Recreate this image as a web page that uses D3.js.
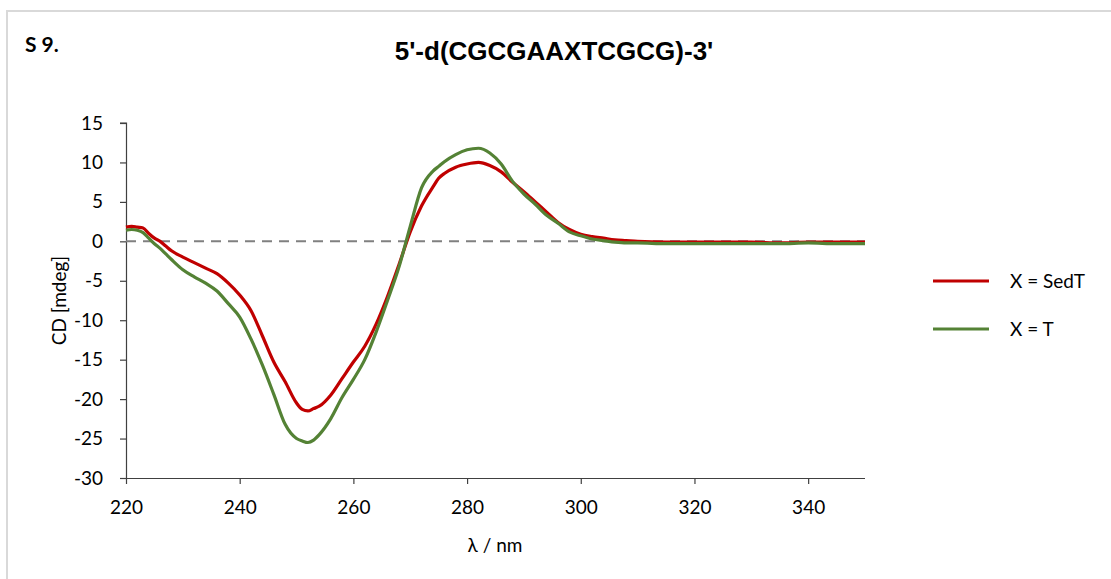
<!DOCTYPE html>
<html>
<head>
<meta charset="utf-8">
<script src="https://cdn.jsdelivr.net/npm/d3@7"></script>
<style>
  body { margin: 0; background: #fff; }
  svg { display: block; }
</style>
</head>
<body>
<svg id="chart" width="1111" height="579"></svg>
<script>

// wavelengths (nm)
var wavelength = [220, 221, 222, 223, 224, 225, 226, 227, 228, 230, 232, 234, 236, 238,
	240, 242, 244, 246, 248, 250, 251, 252, 253, 254, 256, 258, 260, 262, 264, 266, 268,
	270, 272, 274, 275, 276, 278, 280, 282, 284, 286, 288, 290, 292, 294, 296, 298, 300,
	302, 304, 306, 308, 310, 315, 320, 325, 330, 335, 340, 345, 350];

// X = SedT (red)
var cdSedT = [1.8, 1.9, 1.8, 1.7, 1.0, 0.4, 0.0, -0.6, -1.2, -2.0, -2.7, -3.4, -4.1, -5.3,
	-6.8, -8.8, -12.0, -15.3, -17.8, -20.5, -21.3, -21.5, -21.2, -20.9, -19.5, -17.4, -15.3, -13.3, -10.5, -7.0, -3.0,
	1.2, 4.5, 6.9, 8.0, 8.6, 9.4, 9.8, 10.0, 9.6, 8.8, 7.5, 6.3, 5.0, 3.7, 2.4, 1.5, 0.9,
	0.6, 0.4, 0.2, 0.1, 0.0, -0.1, -0.1, -0.1, -0.1, -0.2, -0.1, -0.1, -0.1];

// X = T (green)
var cdT = [1.4, 1.5, 1.4, 1.1, 0.4, -0.3, -0.9, -1.6, -2.3, -3.6, -4.5, -5.3, -6.3, -7.9,
	-9.6, -12.4, -15.7, -19.4, -23.2, -25.0, -25.3, -25.5, -25.2, -24.5, -22.5, -19.8, -17.5, -15.0, -11.5, -7.5, -3.3,
	1.9, 6.8, 8.9, 9.5, 10.1, 11.0, 11.6, 11.8, 11.2, 9.8, 7.6, 6.0, 4.7, 3.3, 2.3, 1.2, 0.7,
	0.3, 0.1, -0.1, -0.2, -0.2, -0.3, -0.3, -0.3, -0.3, -0.3, -0.2, -0.3, -0.3];

var seriesNames = ["X = SedT", "X = T"];
var seriesColors = ["#c00000", "#548235"];
var xTicks = [220, 240, 260, 280, 300, 320, 340];
var yTicks = [15, 10, 5, 0, -5, -10, -15, -20, -25, -30];

var svg = d3.select("#chart");

// light frame round the chart area
svg.append("rect")
	.attr("x", 7).attr("y", 11)
	.attr("width", 1200).attr("height", 700)
	.attr("fill", "none")
	.attr("stroke", "#d9d9d9")
	.attr("stroke-width", 2);

var x = d3.scaleLinear().domain([220, 350]).range([126, 865]);
var y = d3.scaleLinear().domain([-30, 15]).range([478, 123]);

var tickFont = "Lato, 'Noto Sans', sans-serif";
// plain hyphen for negatives, as in the original
var fmt = function(d) { return String(d); };

// y axis
var yAxis = svg.append("g")
	.attr("transform", "translate(" + x(220) + ",0)")
	.call(d3.axisLeft(y).tickValues(yTicks).tickSize(6).tickPadding(17).tickFormat(fmt));
// x axis
var xAxis = svg.append("g")
	.attr("transform", "translate(0," + y(-30) + ")")
	.call(d3.axisBottom(x).tickValues(xTicks).tickSize(6).tickPadding(17).tickFormat(fmt));

[xAxis, yAxis].forEach(function(a) {
	a.select(".domain").attr("stroke", "#404040").attr("stroke-width", 1.2);
	a.selectAll(".tick line").attr("stroke", "#404040").attr("stroke-width", 1.2);
	a.selectAll(".tick text")
		.attr("fill", "#000")
		.style("font-family", tickFont)
		.style("font-size", "19px");
});
// redraw clean domain lines (no outer ticks past the ends)
xAxis.select(".domain").attr("d", "M" + x(220) + ",0.5H" + x(350));
yAxis.select(".domain").attr("d", "M-6," + y(15) + "H0.5V" + y(-30));

// zero reference line
svg.append("line")
	.attr("x1", x(220)).attr("x2", x(350))
	.attr("y1", y(0)).attr("y2", y(0))
	.attr("stroke", "#808080")
	.attr("stroke-width", 2)
	.attr("stroke-dasharray", "10,7");

var line = d3.line()
	.x(function(d) { return x(d[0]); })
	.y(function(d) { return y(d[1]); })
	.curve(d3.curveMonotoneX);

[cdSedT, cdT].forEach(function(vals, i) {
	var pts = wavelength.map(function(w, k) { return [w, vals[k]]; });
	svg.append("path")
		.datum(pts)
		.attr("d", line)
		.attr("fill", "none")
		.attr("stroke", seriesColors[i])
		.attr("stroke-width", 3.2)
		.attr("stroke-linejoin", "round");
});

// legend
var legend = svg.append("g");
seriesNames.forEach(function(name, i) {
	var ly = 281 + i * 48;
	legend.append("line")
		.attr("x1", 933).attr("x2", 989)
		.attr("y1", ly).attr("y2", ly)
		.attr("stroke", seriesColors[i])
		.attr("stroke-width", 3.2);
	legend.append("text")
		.attr("x", 1010).attr("y", ly)
		.attr("dy", "0.35em")
		.style("font-family", tickFont)
		.style("font-size", "19px")
		.text(name);
});

// titles
svg.append("text")
	.attr("x", 25).attr("y", 52)
	.style("font-family", tickFont)
	.style("font-weight", "bold")
	.style("font-size", "21px")
	.text("S 9.");

svg.append("text")
	.attr("x", 554).attr("y", 60)
	.attr("text-anchor", "middle")
	.style("font-family", "'Liberation Sans', Arial, sans-serif")
	.style("font-weight", "bold")
	.style("font-size", "26px")
	.text("5'-d(CGCGAAXTCGCG)-3'");

svg.append("text")
	.attr("transform", "translate(66," + y(-7.5) + ") rotate(-90)")
	.attr("text-anchor", "middle")
	.style("font-family", tickFont)
	.style("font-size", "19px")
	.text("CD [mdeg]");

svg.append("text")
	.attr("x", 495).attr("y", 552)
	.attr("text-anchor", "middle")
	.style("font-family", tickFont)
	.style("font-size", "19px")
	.text("λ / nm");
</script>
</body>
</html>
